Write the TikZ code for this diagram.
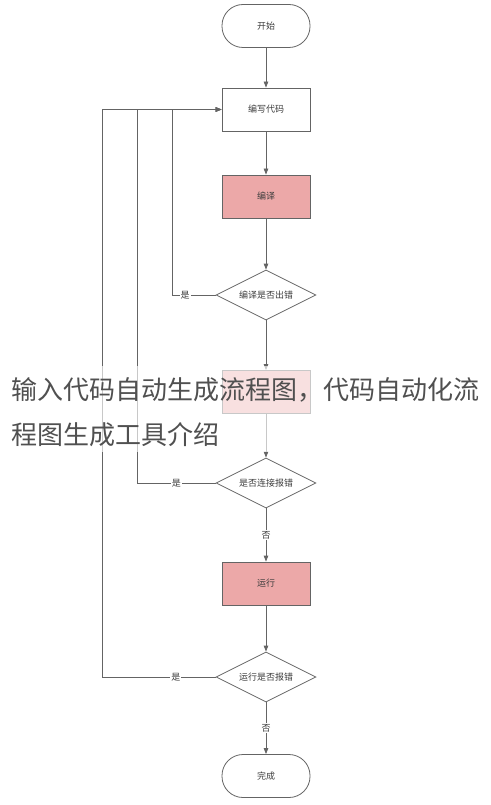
\documentclass[tikz,border=0pt]{standalone}
\usepackage{fontspec}
\newfontfamily\cjk{Noto Sans CJK SC}
\usetikzlibrary{positioning,shapes.geometric,arrows.meta}
\definecolor{liniengrau}{RGB}{100,100,100}
\definecolor{textgrau}{RGB}{60,60,60}
\definecolor{titelgrau}{RGB}{80,80,80}
\definecolor{kastenrot}{RGB}{236,168,168}
\tikzset{
    % Define style for process boxes
    kasten/.style={
           rectangle,
           draw=liniengrau, thick,
           minimum width=88pt, minimum height=43pt,
           text=textgrau,
           font=\cjk\fontsize{9}{9}\selectfont},
    rot/.style={kasten, fill=kastenrot},
    ende/.style={kasten, rounded corners=21pt},
    % Define style for decisions
    raute/.style={
           diamond, aspect=2,
           draw=liniengrau, thick,
           minimum width=100pt, minimum height=50pt,
           inner sep=0pt,
           text=textgrau,
           font=\cjk\fontsize{9}{9}\selectfont},
    % Define arrow style
    pil/.style={
           -{Triangle[length=6pt,width=4.5pt]},
           draw=liniengrau, thick},
    marke/.style={fill=white, inner sep=1pt, text=textgrau,
           font=\cjk\fontsize{9}{9}\selectfont},
    titel/.style={anchor=west, inner sep=0pt, text=titelgrau,
           font=\cjk\fontsize{26}{26}\selectfont}
}

\begin{document}
\begin{tikzpicture}[x=1pt,y=-1pt]
\useasboundingbox (0,0) rectangle (490,805);

% Main column of the flow chart
\node[ende]  (start)   at (266,26)  {开始};
\node[kasten] (code)   at (266,109.5) {编写代码};
\node[rot]   (compile) at (266,196.5) {编译};
\node[raute] (chk1)    at (266,295) {编译是否出错};
\node[rot]   (link)    at (266,392) {};
\node[raute] (chk2)    at (266,483) {是否连接报错};
\node[rot]   (run)     at (266,583.5) {运行};
\node[raute] (chk3)    at (266,677) {运行是否报错};
\node[ende]  (done)    at (266,776) {完成};

% Corner points of the feedback lines
\coordinate (r1) at (172,295);
\coordinate (r2) at (137,483);
\coordinate (r3) at (102,677);

% Now connect the nodes
\draw[pil] (start) -- (code);
\draw[pil] (code) -- (compile);
\draw[pil] (compile) -- (chk1);
\draw[pil] (chk1) -- (link);
\draw[pil] (link) -- (chk2);
\draw[pil] (chk2) -- node[marke]{否} (run);
\draw[pil] (run) -- (chk3);
\draw[pil] (chk3) -- node[marke]{否} (done);

% Feedback lines back to the code box
\draw[pil] (chk1.west) -- node[marke,pos=.7]{是} (r1) |- (code.west);
\draw[pil] (chk2.west) -- node[marke,pos=.5]{是} (r2) |- (code.west);
\draw[pil] (chk3.west) -- node[marke,pos=.35]{是} (r3) |- (code.west);

% Caption band laid over the chart
\fill[white, opacity=.65] (0,366) rectangle (490,452);
\node[titel] (titel1) at (11,390) {输入代码自动生成流程图，代码自动化流};
\node[titel] (titel2) at (11,435) {程图生成工具介绍};
\end{tikzpicture}
\end{document}
